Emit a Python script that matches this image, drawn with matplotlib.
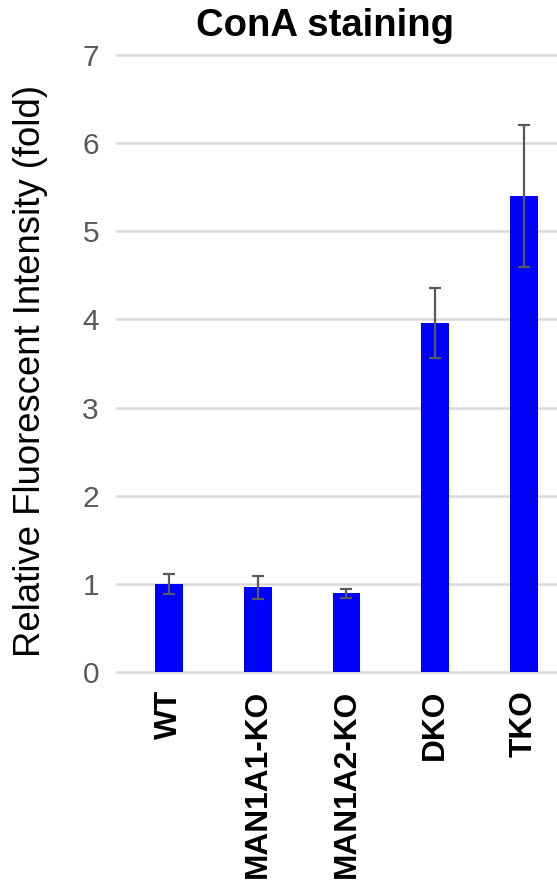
import matplotlib
matplotlib.use("Agg")
import matplotlib.pyplot as plt
import numpy as np

plt.rcParams['font.family'] = ['Liberation Sans', 'DejaVu Sans']

# ConA staining: relative fluorescent intensity (fold) with error bars
groups = ["WT", "MAN1A1-KO", "MAN1A2-KO", "DKO", "TKO"]
values = [1.00, 0.96, 0.895, 3.96, 5.40]
errors = [0.114, 0.13, 0.052, 0.395, 0.81]
yticks = [0, 1, 2, 3, 4, 5, 6, 7]

W, H = 557, 885
fig = plt.figure(figsize=(W / 100, H / 100), dpi=100)
ax = fig.add_axes([117 / W, (H - 672) / H, (W - 117) / W, (672 - 55) / H])

x = np.arange(len(groups))
ax.bar(x, values, width=0.31, color="#0000ff", zorder=3)
ax.errorbar(x, values, yerr=errors, fmt="none", ecolor="#5a5a5a",
            elinewidth=1.6, capsize=4.5, capthick=1.6, zorder=4)

ax.set_xlim(-0.586, 4.372)
ax.set_ylim(0, 7)
ax.set_yticks(yticks)
ax.set_yticklabels([str(t) for t in yticks], fontsize=21.5, color="#595959")
ax.yaxis.grid(True, color="#d9d9d9", linewidth=1.8, zorder=0)
for gl in ax.get_ygridlines():
    gl.set_clip_on(False)
ax.set_axisbelow(True)
for s in ax.spines.values():
    s.set_visible(False)
ax.tick_params(axis="both", length=0)
ax.tick_params(axis="y", pad=13)

ax.set_xticks(x)
ax.set_xticklabels(groups, rotation=90, fontsize=22.8, fontweight="bold",
                   va="top", ha="center")
ax.tick_params(axis="x", pad=13)

ax.set_ylabel("Relative Fluorescent Intensity (fold)", fontsize=26.3,
              va="center")
ax.yaxis.set_label_coords(-(117 - 31) / (W - 117), (672 - 371) / (672 - 55))

fig.text(325 / W, 1 - 26 / H, "ConA staining", fontsize=27.5, fontweight="bold",
         ha="center", va="center")

fig.savefig("out.png", dpi=100)
